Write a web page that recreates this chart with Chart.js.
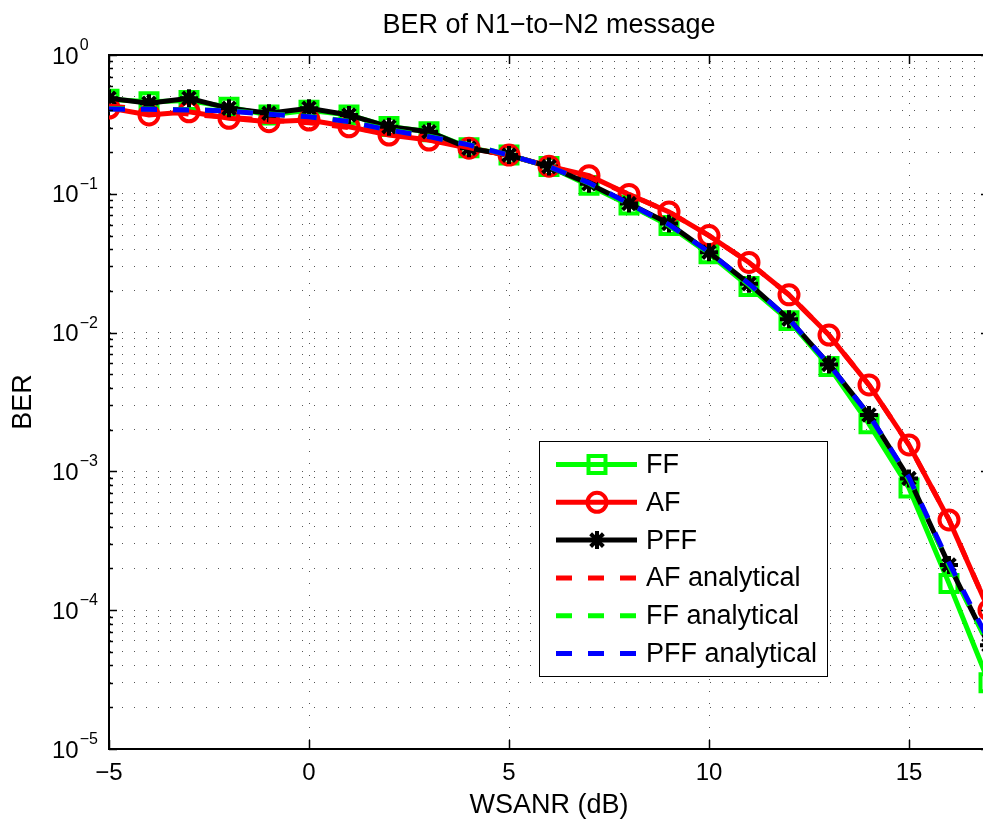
<!DOCTYPE html>
<html lang="en">
<head>
<meta charset="UTF-8">
<title>BER of N1-to-N2 message</title>
<script src="https://cdn.jsdelivr.net/npm/chart.js@4.4.0/dist/chart.umd.min.js"></script>
<style>
  html, body { margin: 0; padding: 0; overflow: hidden; background: #fff; }
</style>
</head>
<body>
<canvas id="ber" width="989" height="823"></canvas>
<script>
// WSANR in dB
const snr = [-5, -4, -3, -2, -1, 0, 1, 2, 3, 4, 5, 6, 7, 8, 9, 10, 11, 12, 13, 14, 15, 16, 17];

// simulated BER
const ffSim  = [0.48, 0.46, 0.47, 0.42, 0.37, 0.40, 0.37, 0.305, 0.28, 0.215, 0.19, 0.157, 0.115, 0.083, 0.059, 0.037, 0.0215, 0.0122, 0.0057, 0.0022, 0.00076, 0.000156, 0.00003];
const afSim  = [0.415, 0.37, 0.39, 0.35, 0.331, 0.34, 0.304, 0.265, 0.244, 0.213, 0.19, 0.158, 0.135, 0.099, 0.074, 0.05, 0.032, 0.0187, 0.0096, 0.0042, 0.00155, 0.000447, 0.0001];
const pffSim = [0.488, 0.449, 0.488, 0.413, 0.38, 0.413, 0.37, 0.304, 0.28, 0.213, 0.19, 0.157, 0.118, 0.085, 0.061, 0.038, 0.0225, 0.0125, 0.0059, 0.00255, 0.00089, 0.000212, 0.000056];

// analytical BER
const afAna  = [0.43, 0.40, 0.375, 0.355, 0.34, 0.325, 0.30, 0.275, 0.245, 0.215, 0.188, 0.158, 0.132, 0.099, 0.074, 0.05, 0.032, 0.0187, 0.0096, 0.0042, 0.00155, 0.00045, 0.0001];
const ffAna  = [0.41, 0.408, 0.404, 0.397, 0.376, 0.361, 0.333, 0.29, 0.26, 0.226, 0.19, 0.157, 0.119, 0.084, 0.059, 0.0375, 0.022, 0.0122, 0.0058, 0.0025, 0.00087, 0.00021, 0.000055];
const pffAna = [0.408, 0.406, 0.402, 0.395, 0.374, 0.359, 0.331, 0.288, 0.258, 0.225, 0.19, 0.157, 0.12, 0.085, 0.06, 0.038, 0.0225, 0.0125, 0.0059, 0.00255, 0.0009, 0.00022, 0.00006];

const xTicks = [-5, 0, 5, 10, 15];
const yDecades = [-5, -4, -3, -2, -1, 0];

const FONT = "'Liberation Sans', Arial, Helvetica, sans-serif";
Chart.defaults.font.family = FONT;

function pts(arr) {
  return snr.map((x, i) => ({ x: x, y: arr[i] }));
}

// minor + major positions for the log grid
let yGrid = [];
yDecades.forEach(e => {
  if (e === 0) { yGrid.push(1); return; }
  for (let m = 1; m <= 9; m++) yGrid.push(m * Math.pow(10, e));
});

function mk(label, data, color, opts) {
  return Object.assign({
    label: label,
    data: pts(data),
    borderColor: color,
    borderWidth: 5,
    pointBorderColor: color,
    pointBackgroundColor: 'rgba(0,0,0,0)',
    pointBorderWidth: 4,
    pointRadius: 0,
    tension: 0,
    fill: false
  }, opts);
}

const datasets = [
  mk('FF', ffSim, '#00ff00', { pointStyle: 'rect', pointRadius: 12, order: 6 }),
  mk('AF', afSim, '#ff0000', { pointStyle: 'circle', pointRadius: 9.5, order: 5 }),
  mk('PFF', pffSim, '#000000', { pointStyle: 'star', pointRadius: 9, order: 4 }),
  mk('AF analytical', afAna, '#ff0000', { borderDash: [16, 16], order: 3 }),
  mk('FF analytical', ffAna, '#00ff00', { borderDash: [16, 16], order: 2 }),
  mk('PFF analytical', pffAna, '#0000ff', { borderDash: [16, 16], order: 1 })
];

function drawMarker(ctx, style, x, y, r, color, lw) {
  ctx.save();
  ctx.strokeStyle = color;
  ctx.lineWidth = lw;
  ctx.setLineDash([]);
  ctx.beginPath();
  if (style === 'rect') {
    const s = r * Math.SQRT1_2;
    ctx.rect(x - s, y - s, 2 * s, 2 * s);
  } else if (style === 'circle') {
    ctx.arc(x, y, r, 0, Math.PI * 2);
  } else if (style === 'star') {
    for (let a = 0; a < 4; a++) {
      const t = a * Math.PI / 4;
      ctx.moveTo(x + Math.cos(t) * r, y + Math.sin(t) * r);
      ctx.lineTo(x - Math.cos(t) * r, y - Math.sin(t) * r);
    }
  }
  ctx.stroke();
  ctx.restore();
}

const decor = {
  id: 'decor',
  afterDraw(chart) {
    const ctx = chart.ctx;
    const a = chart.chartArea;
    const xs = chart.scales.x, ys = chart.scales.y;
    ctx.save();

    // top frame line
    ctx.strokeStyle = '#000';
    ctx.lineWidth = 2;
    ctx.beginPath();
    ctx.moveTo(a.left, a.top);
    ctx.lineTo(a.right, a.top);
    ctx.stroke();

    // inward ticks
    ctx.lineWidth = 1.5;
    ctx.beginPath();
    xTicks.forEach(v => {
      const px = Math.round(xs.getPixelForValue(v)) + 0.5;
      ctx.moveTo(px, a.bottom); ctx.lineTo(px, a.bottom - 9);
      ctx.moveTo(px, a.top); ctx.lineTo(px, a.top + 9);
    });
    yGrid.forEach(v => {
      const py = Math.round(ys.getPixelForValue(v)) + 0.5;
      const major = Math.abs(Math.log10(v) - Math.round(Math.log10(v))) < 1e-9;
      const len = major ? 8 : 4;
      ctx.moveTo(a.left, py); ctx.lineTo(a.left + len, py);
      ctx.moveTo(a.right, py); ctx.lineTo(a.right - len, py);
    });
    ctx.stroke();

    // y tick labels: 10^k
    ctx.fillStyle = '#000';
    ctx.textBaseline = 'alphabetic';
    ctx.textAlign = 'left';
    yDecades.forEach(e => {
      const py = ys.getPixelForValue(Math.pow(10, e));
      ctx.font = '24px ' + FONT;
      ctx.fillText('10', 52, py + 8.6);
      const w = ctx.measureText('10').width;
      ctx.font = '16px ' + FONT;
      ctx.fillText(String(e).replace('-', '\u2212'), 52 + w + 1, py - 5);
    });

    // title and axis labels
    const cx = (a.left + a.right) / 2;
    ctx.font = '27px ' + FONT;
    ctx.textAlign = 'center';
    ctx.fillText('BER of N1\u2212to\u2212N2 message', cx, 33);
    ctx.fillText('WSANR (dB)', cx, 813);
    ctx.save();
    ctx.translate(31, (a.top + a.bottom) / 2);
    ctx.rotate(-Math.PI / 2);
    ctx.fillText('BER', 0, 0);
    ctx.restore();

    // legend box
    const bx = 539.5, by = 441.5, bw = 288, bh = 235;
    ctx.fillStyle = '#fff';
    ctx.fillRect(bx, by, bw, bh);
    ctx.strokeStyle = '#000';
    ctx.lineWidth = 1;
    ctx.strokeRect(bx, by, bw, bh);
    ctx.font = '27px ' + FONT;
    ctx.textAlign = 'left';
    ctx.textBaseline = 'middle';
    chart.data.datasets.forEach((ds, i) => {
      const ly = 464.5 + i * 37.8;
      ctx.save();
      ctx.strokeStyle = ds.borderColor;
      ctx.lineWidth = ds.borderWidth;
      ctx.setLineDash(ds.borderDash || []);
      ctx.beginPath();
      ctx.moveTo(556, ly);
      ctx.lineTo(637, ly);
      ctx.stroke();
      ctx.restore();
      if (ds.pointRadius > 0) {
        drawMarker(ctx, ds.pointStyle, 597, ly, ds.pointRadius, ds.pointBorderColor, ds.pointBorderWidth);
      }
      ctx.fillStyle = '#000';
      ctx.fillText(ds.label, 646, ly + 1);
    });

    ctx.restore();
  }
};

new Chart(document.getElementById('ber'), {
  type: 'line',
  data: { datasets: datasets },
  options: {
    responsive: false,
    animation: false,
    devicePixelRatio: 1,
    layout: { autoPadding: false, padding: { top: 55, right: 0, bottom: 0, left: 0 } },
    plugins: {
      legend: { display: false },
      title: { display: false },
      tooltip: { enabled: false }
    },
    scales: {
      x: {
        type: 'linear',
        min: -5,
        max: 17,
        afterBuildTicks: s => { s.ticks = xTicks.map(v => ({ value: v })); },
        afterFit: s => { s.height = 74; s.paddingLeft = 0; s.paddingRight = 0; },
        grid: { color: '#555', lineWidth: 1, drawTicks: false },
        border: { display: true, color: '#000', width: 2, dash: [1, 11] },
        ticks: {
          color: '#000',
          font: { size: 24 },
          padding: 10,
          maxRotation: 0,
          callback: v => String(v).replace('-', '\u2212')
        }
      },
      y: {
        type: 'logarithmic',
        min: 1e-5,
        max: 1,
        afterBuildTicks: s => { s.ticks = yGrid.map(v => ({ value: v })); },
        afterFit: s => { s.width = 109; },
        grid: { color: '#555', lineWidth: 1, drawTicks: false },
        border: { display: true, color: '#000', width: 2, dash: [1, 11] },
        ticks: { display: false }
      }
    }
  },
  plugins: [decor]
});
</script>
</body>
</html>
